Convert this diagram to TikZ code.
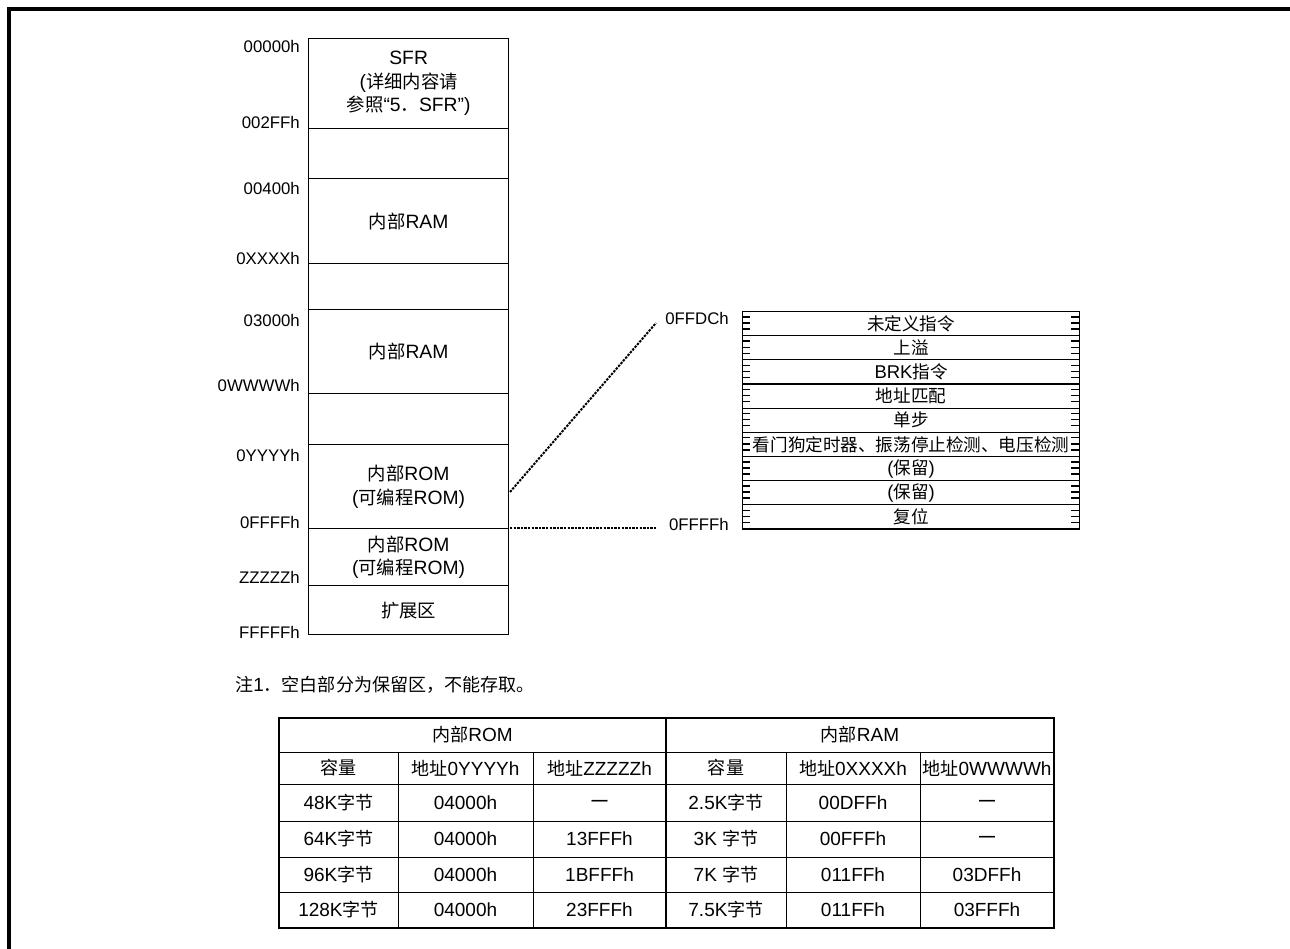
\documentclass[tikz,border=0pt]{standalone}
\usepackage{fontspec}
\setmainfont{Liberation Sans}
\newfontfamily\cjk[Scale=0.95]{Noto Sans CJK SC}
\newcommand{\zh}[1]{{\cjk #1}}
\newcommand{\nil}{{\fontsize{16}{18}\selectfont\bfseries —}}
\begin{document}
\begin{tikzpicture}[x=1pt,y=-1pt,
  region/.style={draw,line width=1.3pt,minimum width=200pt,inner sep=0pt,anchor=north west,align=center,font=\fontsize{19.3}{23.5}\selectfont},
  addr/.style={inner sep=0pt,font=\fontsize{16.8}{19}\selectfont},
  vrow/.style={draw,line width=1.2pt,minimum width=337pt,minimum height=24.15pt,inner sep=0pt,anchor=north west,font=\fontsize{18.5}{20}\selectfont},
  cell/.style={inner sep=0pt,font=\fontsize{19}{22}\selectfont},
  conn/.style={line width=2pt,dash pattern=on 2.4pt off 1.2pt},
  tickmark/.style={line width=1.4pt},
  frame/.style={line width=3.3pt},
  outer/.style={line width=2.2pt},
  inner/.style={line width=1pt}
]
\useasboundingbox (0,0) rectangle (1290,949);
% page frame
\draw[frame] (9,949) -- (9,9) -- (1290,9);

% memory map
\node[region,minimum height=90pt] (sfr) at (308,38) {SFR\\(\zh{详细内容请}\\\zh{参照}“5\zh{．}SFR”)};
\node[region,minimum height=50pt] (rsv1) at (308,128) {};
\node[region,minimum height=85pt] (ram1) at (308,178) {\zh{内部}RAM};
\node[region,minimum height=46pt] (rsv2) at (308,263) {};
\node[region,minimum height=84pt] (ram2) at (308,309) {\zh{内部}RAM};
\node[region,minimum height=51pt] (rsv3) at (308,393) {};
\node[region,minimum height=84pt] (rom1) at (308,444) {\zh{内部}ROM\\(\zh{可编程}ROM)};
\node[region,minimum height=57pt] (rom2) at (308,528) {\zh{内部}ROM\\(\zh{可编程}ROM)};
\node[region,minimum height=49pt] (ext) at (308,585) {\zh{扩展区}};

% address labels
\node[addr,anchor=east] (a0) at (300,46) {00000h};
\node[addr,anchor=east] (a1) at (300,122) {002FFh};
\node[addr,anchor=east] (a2) at (300,188) {00400h};
\node[addr,anchor=east] (a3) at (300,258) {0XXXXh};
\node[addr,anchor=east] (a4) at (300,320) {03000h};
\node[addr,anchor=east] (a5) at (300,385) {0WWWWh};
\node[addr,anchor=east] (a6) at (300,455) {0YYYYh};
\node[addr,anchor=east] (a7) at (300,522) {0FFFFh};
\node[addr,anchor=east] (a8) at (300,577) {ZZZZZh};
\node[addr,anchor=east] (a9) at (300,632) {FFFFFh};

% vector table labels
\node[addr,anchor=east] (vtop) at (729,318) {0FFDCh};
\node[addr,anchor=east] (vbot) at (729,524) {0FFFFh};

% connectors
\coordinate (tapA) at (510,492);
\coordinate (tapB) at (510,528);
\coordinate (endA) at (656,323);
\coordinate (endB) at (656,528);
\draw[conn] (tapA) -- (endA);
\draw[conn] (tapB) -- (endB);

% vector table
\node[vrow] (v0) at (742,311.00) {\zh{未定义指令}};
\node[vrow] (v1) at (742,335.15) {\zh{上溢}};
\node[vrow] (v2) at (742,359.30) {BRK\zh{指令}};
\node[vrow] (v3) at (742,383.45) {\zh{地址匹配}};
\node[vrow] (v4) at (742,407.60) {\zh{单步}};
\node[vrow] (v5) at (742,431.75) {\zh{看门狗定时器、振荡停止检测、电压检测}};
\node[vrow] (v6) at (742,455.90) {(\zh{保留})};
\node[vrow] (v7) at (742,480.05) {(\zh{保留})};
\node[vrow] (v8) at (742,504.20) {\zh{复位}};
\foreach \i in {0,...,8} {
  \foreach \k in {1,2,3} {
    \draw[tickmark] (742,{311+24.15*\i+6.0375*\k}) -- ++(8,0);
    \draw[tickmark] (1079,{311+24.15*\i+6.0375*\k}) -- ++(-8,0);
  }
}

% note
\node[cell,anchor=west] (note) at (235,685) {\zh{注}1\zh{．空白部分为保留区，不能存取。}};

% table lines
\draw[inner] (279,752) -- (1054,752);
\foreach \yy in {784,821,857,892} { \draw[inner] (279,\yy) -- (1054,\yy); }
\draw[line width=1.3pt] (666,718) -- (666,928);
\foreach \xx in {398,533,786,920} { \draw[inner] (\xx,752) -- (\xx,928); }
\draw[outer] (279,718) rectangle (1054,928);

% table texts
\node[cell] (hROM) at (472.5,735) {\zh{内部}ROM};
\node[cell] (hRAM) at (860,735) {\zh{内部}RAM};
\node[cell] (h1) at (338.5,768) {\zh{容量}};
\node[cell] (h2) at (465.5,768) {\zh{地址}0YYYYh};
\node[cell] (h3) at (599.5,768) {\zh{地址}ZZZZZh};
\node[cell] (h4) at (726,768) {\zh{容量}};
\node[cell] (h5) at (853,768) {\zh{地址}0XXXXh};
\node[cell] (h6) at (987,768) {\zh{地址}0WWWWh};

\node[cell] (r1c1) at (338.5,802.5) {48K\zh{字节}};
\node[cell] (r1c2) at (465.5,802.5) {04000h};
\node[cell] (r1c3) at (599.5,802.5) {\nil};
\node[cell] (r1c4) at (726,802.5) {2.5K\zh{字节}};
\node[cell] (r1c5) at (853,802.5) {00DFFh};
\node[cell] (r1c6) at (987,802.5) {\nil};

\node[cell] (r2c1) at (338.5,839) {64K\zh{字节}};
\node[cell] (r2c2) at (465.5,839) {04000h};
\node[cell] (r2c3) at (599.5,839) {13FFFh};
\node[cell] (r2c4) at (726,839) {3K \zh{字节}};
\node[cell] (r2c5) at (853,839) {00FFFh};
\node[cell] (r2c6) at (987,839) {\nil};

\node[cell] (r3c1) at (338.5,874.5) {96K\zh{字节}};
\node[cell] (r3c2) at (465.5,874.5) {04000h};
\node[cell] (r3c3) at (599.5,874.5) {1BFFFh};
\node[cell] (r3c4) at (726,874.5) {7K \zh{字节}};
\node[cell] (r3c5) at (853,874.5) {011FFh};
\node[cell] (r3c6) at (987,874.5) {03DFFh};

\node[cell] (r4c1) at (338.5,910) {128K\zh{字节}};
\node[cell] (r4c2) at (465.5,910) {04000h};
\node[cell] (r4c3) at (599.5,910) {23FFFh};
\node[cell] (r4c4) at (726,910) {7.5K\zh{字节}};
\node[cell] (r4c5) at (853,910) {011FFh};
\node[cell] (r4c6) at (987,910) {03FFFh};
\end{tikzpicture}
\end{document}
